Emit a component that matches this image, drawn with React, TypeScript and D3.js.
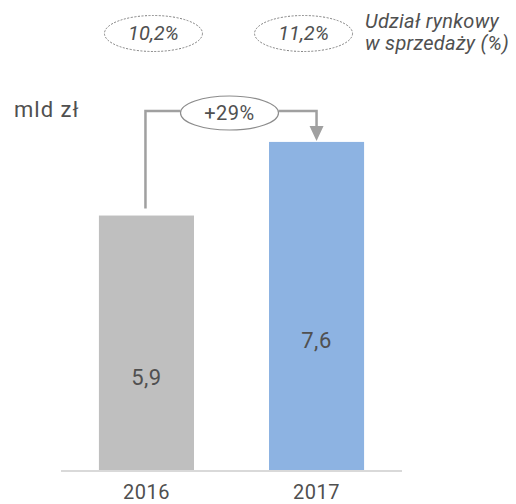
import React from "react";
import * as d3 from "d3";

const years = ["2016", "2017"];
const values = [5.9, 7.6];
const valueLabels = ["5,9", "7,6"];
const shareLabels = ["10,2%", "11,2%"];
const growthLabel = "+29%";
const unitLabel = "mld zł";
const shareTitle = ["Udział rynkowy", "w sprzedaży (%)"];

const W = 516;
const H = 504;
const TEXT = "#505050";
const FONT = "Roboto, 'DejaVu Sans', sans-serif";

export default function App() {
  const x = d3.scaleBand<string>().domain(years).range([61.5, 401.5]).paddingInner(0.441).paddingOuter(0.22);
  const y = d3.scaleLinear().domain([0, 10]).range([471, 38]);
  const colors = ["#BFBFBF", "#8DB3E2"];
  const bw = x.bandwidth();
  const cx = (k: string) => (x(k) as number) + bw / 2;

  const c0 = cx(years[0]);
  const c1 = cx(years[1]);
  const lineY = 111;
  const ex = (c0 + c1) / 2 - 2;
  const erx = 49;
  const ery = 17;
  const top1 = y(values[1]);

  const shareX = [c0 + 7, c1 - 13];

  return (
    <svg width={W} height={H} style={{ position: "absolute", left: 0, top: 0, background: "#fff" }} fontFamily={FONT}>
      {years.map((k, i) => (
        <rect key={k} x={x(k)} y={y(values[i])} width={bw} height={y(0) - y(values[i])} fill={colors[i]} />
      ))}
      <line x1={61} x2={402} y1={y(0)} y2={y(0)} stroke="#D9D9D9" strokeWidth={2} />
      {years.map((k, i) => (
        <text key={k} x={cx(k)} y={(y(values[i]) + y(0)) / 2 + 42} textAnchor="middle" fontSize={22} fill={TEXT} letterSpacing={0.5}>
          {valueLabels[i]}
        </text>
      ))}
      {years.map((k) => (
        <text key={k} x={cx(k)} y={499} textAnchor="middle" fontSize={20} fill={TEXT} letterSpacing={0.5}>
          {k}
        </text>
      ))}
      <text x={14} y={117} fontSize={22} fill={TEXT} letterSpacing={1}>
        {unitLabel}
      </text>
      <path
        d={`M${c0 - 1},${y(values[0]) - 7} V${lineY} H${ex - erx} M${ex + erx},${lineY} H${c1} V${top1 - 15}`}
        fill="none"
        stroke="#A0A0A0"
        strokeWidth={2.5}
      />
      <path d={`M${c1 - 7},${top1 - 16} L${c1 + 7},${top1 - 16} L${c1},${top1 - 1} Z`} fill="#A0A0A0" />
      <ellipse cx={ex} cy={lineY + 2} rx={erx} ry={ery} fill="#fff" stroke="#8C8C8C" strokeWidth={1.2} />
      <text x={ex} y={lineY + 9} textAnchor="middle" fontSize={20} fill={TEXT} letterSpacing={0.5}>
        {growthLabel}
      </text>
      {shareLabels.map((s, i) => (
        <g key={s}>
          <ellipse cx={shareX[i]} cy={33.5} rx={49} ry={18} fill="none" stroke="#808080" strokeWidth={1} strokeDasharray="2,1.5" />
          <text x={shareX[i]} y={40} textAnchor="middle" fontSize={20} fontStyle="italic" fill={TEXT}>
            {s}
          </text>
        </g>
      ))}
      {shareTitle.map((t, i) => (
        <text key={t} x={365} y={28 + i * 22} fontSize={20} fontStyle="italic" fill={TEXT} letterSpacing={0.3}>
          {t}
        </text>
      ))}
    </svg>
  );
}
